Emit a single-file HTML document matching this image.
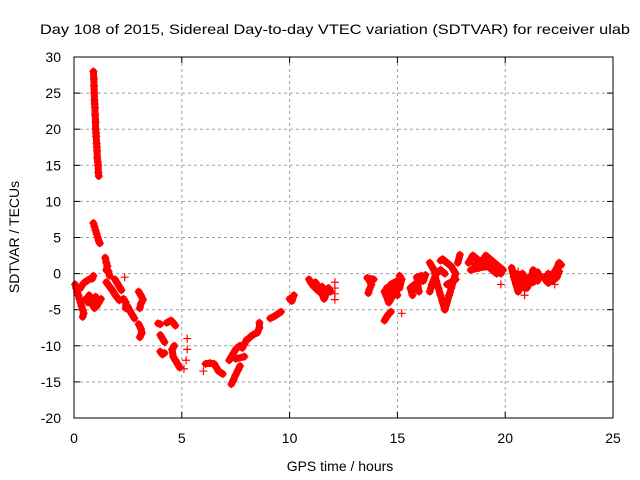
<!DOCTYPE html>
<html><head><meta charset="utf-8"><style>
html,body{margin:0;padding:0;background:#fff;}
svg{display:block;font-family:"Liberation Sans",sans-serif;}
</style></head><body>
<svg id="chart" width="640" height="480" viewBox="0 0 640 480" xmlns="http://www.w3.org/2000/svg">
<rect x="0" y="0" width="640" height="480" fill="#fff"/>
<text x="40" y="34" font-size="14" textLength="590" lengthAdjust="spacingAndGlyphs">Day 108 of 2015, Sidereal Day-to-day VTEC variation (SDTVAR) for receiver ulab</text>
<g id="grid"></g>
<g id="ticks"></g>
<g id="marks"></g>
<rect x="74" y="57" width="539" height="361" fill="none" stroke="#000" stroke-width="1"/>
<text x="340" y="471" font-size="14" text-anchor="middle">GPS time / hours</text>
<text transform="translate(19,237) rotate(-90)" font-size="14" text-anchor="middle">SDTVAR / TECUs</text>
</svg>
<script>
const xTicks=[0,5,10,15,20,25];
const yTicks=[-20,-15,-10,-5,0,5,10,15,20,25,30];
const clusters=[
[[0.9,28],[0.92,27],[0.93,26],[0.94,25],[0.95,24],[0.96,23.5],[0.97,23],[0.98,22],[1.0,21],[1.0,20],[1.02,19.5],[1.03,19],[1.05,18],[1.06,17.5],[1.07,17],[1.08,16],[1.1,15.5],[1.12,15],[1.13,14],[1.15,13.5]],
[[0.9,7],[0.95,6.5],[1.0,6],[1.05,5.5],[1.1,5],[1.15,4.5],[1.2,4.2]],
[[1.45,2.2],[1.5,1.5],[1.55,1],[1.5,0.5],[1.6,0.3],[1.65,-0.3]],
[[0.05,-1.5],[0.1,-2],[0.15,-2.5],[0.2,-3],[0.25,-3.5],[0.3,-4],[0.35,-4.5],[0.4,-5],[0.45,-5.5],[0.4,-6]],
[[0.3,-2],[0.4,-1.5],[0.5,-1.2],[0.6,-1.0],[0.7,-0.8],[0.85,-0.7],[0.9,-0.3]],
[[0.55,-3.5],[0.65,-4],[0.7,-3],[0.75,-3.8],[0.85,-4.3],[0.95,-4.8],[1.0,-3.2],[1.05,-4.5],[1.15,-4],[1.25,-3.5]],
[[1.5,-1.2],[1.6,-1.6],[1.7,-2],[1.8,-2.4],[1.9,-2.9],[2.0,-3.3],[2.1,-3.7]],
[[1.9,-0.8],[2.0,-1.3],[2.1,-1.8],[2.2,-2.3]],
[[2.35,-0.5]],
[[2.3,-3.5],[2.4,-4],[2.4,-4.8],[2.5,-4.6],[2.6,-5.2],[2.7,-5.7],[2.8,-6.2]],
[[3.0,-2.5],[3.1,-3],[3.2,-3.6],[3.1,-4.2],[3.05,-4.8]],
[[3.0,-7],[3.1,-7.6],[3.15,-8.2],[3.05,-8.8]],
[[3.9,-6.9],[4.0,-7]],
[[4.3,-6.8],[4.5,-6.5],[4.6,-6.8],[4.7,-7.2]],
[[4.0,-8.5],[4.1,-9],[4.2,-9.5]],
[[4.0,-10.8],[4.1,-11.2],[4.2,-11]],
[[4.65,-10],[4.55,-10.5],[4.6,-11.5],[4.7,-12],[4.8,-12.5],[4.9,-13]],
[[5.25,-9]],[[5.25,-10.5]],[[5.2,-12]],[[5.1,-13.2]],
[[6.1,-12.5],[6.3,-12.4],[6.5,-12.5],[6.6,-13],[6.7,-13.5],[6.9,-13.9]],[[6.0,-13.5]],
[[7.3,-15.3],[7.4,-14.7],[7.5,-14],[7.6,-13.4],[7.7,-12.8]],
[[7.2,-12],[7.3,-11.5],[7.4,-11],[7.5,-10.5],[7.6,-10.2],[7.7,-10],[7.8,-10.3],[7.9,-9.8],[8.0,-9.2],[8.1,-9],[8.2,-8.7],[8.3,-8.5],[8.4,-8.3],[8.5,-8.2],[8.6,-7.5],[8.6,-6.8]],
[[7.5,-11.8],[7.9,-11.5]],
[[9.1,-6.2],[9.3,-5.9],[9.5,-5.5],[9.6,-5.3]],
[[10.0,-3.5],[10.1,-3.8],[10.2,-3]],
[[10.9,-0.8],[11.0,-1.3],[11.1,-1.7],[11.2,-2],[11.3,-2.3],[11.5,-2.8],[11.6,-3.5],[11.7,-2.8],[11.8,-2],[11.9,-2.5]],
[[11.2,-1.2],[11.4,-2.1],[11.5,-1.8],[11.6,-2.4]],
[[12.1,-1.2]],[[12.1,-2]],[[12.1,-2.8]],[[12.1,-3.6]],
[[13.6,-0.6],[13.9,-0.8],[13.7,-1],[13.8,-1.5],[13.7,-2.2],[13.65,-2.7]],
[[14.4,-2.5],[14.5,-3.2],[14.6,-4],[14.8,-3],[14.6,-2],[14.7,-1.5],[15.0,-1],[15.1,-2],[15.2,-0.8],[15.1,-0.3]],
[[14.9,-2.2],[15.0,-3],[14.5,-2]],
[[14.4,-6.5],[14.5,-6],[14.6,-5.6],[14.7,-5.3]],[[15.2,-5.5]],
[[15.7,-3],[15.6,-2],[15.8,-1.5],[16.0,-2.5],[15.9,-0.5],[16.1,-0.3],[16.2,-1],[16.3,-0.2]],
[[15.8,-2.2],[16.0,-1.2],[16.2,-0.5]],
[[16.5,1.5],[16.7,0.5],[16.8,-1],[16.9,-2],[17.0,-3],[17.1,-4],[17.2,-5],[17.3,-4],[17.4,-3],[17.5,-2],[17.6,-1],[17.7,0],[17.5,1],[17.3,1.5],[17.1,2],[17.0,1.8]],
[[16.5,-2.5],[16.6,-1.5],[16.8,0],[17.0,0.5],[17.2,0]],[[17.3,-1.5],[17.7,-0.8]],[[17.8,1.5],[17.9,2.6]],
[[18.3,1.5],[18.5,2.5],[18.7,2],[18.9,1.5],[19.1,2.5],[19.3,2],[19.5,1.5],[19.7,1],[19.9,0.5]],
[[18.4,0.5],[18.8,0.8],[19.2,1],[19.6,0]],[[18.6,1.2],[19.0,2],[19.4,0.8],[19.8,0]],[[19.8,-1.5]],
[[20.3,0.8],[20.4,-0.5],[20.5,-1.5],[20.6,-2.5],[20.7,-1],[20.8,0],[20.9,-0.8],[21.0,-2],[21.1,-1.5],[21.2,-0.5],[21.3,0.5],[21.4,-0.2],[21.5,-1],[21.6,-0.3]],
[[20.5,0],[20.7,-1.8],[20.9,-2],[21.1,-0.5],[21.3,-1.2],[21.5,0.2]],
[[20.6,0.3]],[[20.9,-3]],
[[21.8,-0.5],[21.9,-1],[22.0,-1.3],[22.1,-0.8],[22.2,-0.2],[22.3,0.3],[22.4,0.8],[22.5,1.5],[22.6,1.2]],
[[22.0,0],[22.2,-1],[22.4,-0.5],[22.5,0.3]],[[22.3,-1.5]]
];
const NS='http://www.w3.org/2000/svg';
function sx(v){return 74+(v-0)*539/25;}
function sy(v){return 418-(v+20)*361/50;}
function mk(tag,attrs,parent){const e=document.createElementNS(NS,tag);for(const k in attrs)e.setAttribute(k,attrs[k]);parent.appendChild(e);return e;}
const grid=document.getElementById('grid'),ticks=document.getElementById('ticks'),marks=document.getElementById('marks');
xTicks.forEach(t=>{
  const x=sx(t);
  if(t>0&&t<25){const g=mk('line',{x1:x,y1:57,x2:x,y2:418,stroke:'#a0a0a0','stroke-dasharray':'3,3'},grid);
  
  }
  mk('line',{x1:x,y1:418,x2:x,y2:412,stroke:'#000'},ticks);
  mk('line',{x1:x,y1:57,x2:x,y2:63,stroke:'#000'},ticks);
  const l=mk('text',{x:x,y:443,'font-size':14,'text-anchor':'middle'},ticks);l.textContent=t;
  
  
});
yTicks.forEach(t=>{
  const y=sy(t);
  if(t>-20&&t<30){const g=mk('line',{x1:74,y1:y,x2:613,y2:y,stroke:'#a0a0a0','stroke-dasharray':'3,3'},grid);
  
  }
  mk('line',{x1:74,y1:y,x2:80,y2:y,stroke:'#000'},ticks);
  mk('line',{x1:613,y1:y,x2:607,y2:y,stroke:'#000'},ticks);
  const l=mk('text',{x:61,y:y+5,'font-size':14,'text-anchor':'end'},ticks);l.textContent=t;
  
  
});
clusters.forEach(c=>{
  if(c.length>1){
    const p=mk('polyline',{points:c.map(d=>sx(d[0])+','+sy(d[1])).join(' '),fill:'none',stroke:'#f00','stroke-width':7,'stroke-linejoin':'round','stroke-linecap':'round'},marks);
    
    
  }
  c.forEach(d=>{
    const x=sx(d[0]),y=sy(d[1]);
    const m=mk('path',{d:`M${x-4},${y}H${x+4}M${x},${y-4}V${y+4}`,stroke:'#f00','stroke-width':1.2,fill:'none'},marks);
    
    
  });
});
</script>
</body></html>
